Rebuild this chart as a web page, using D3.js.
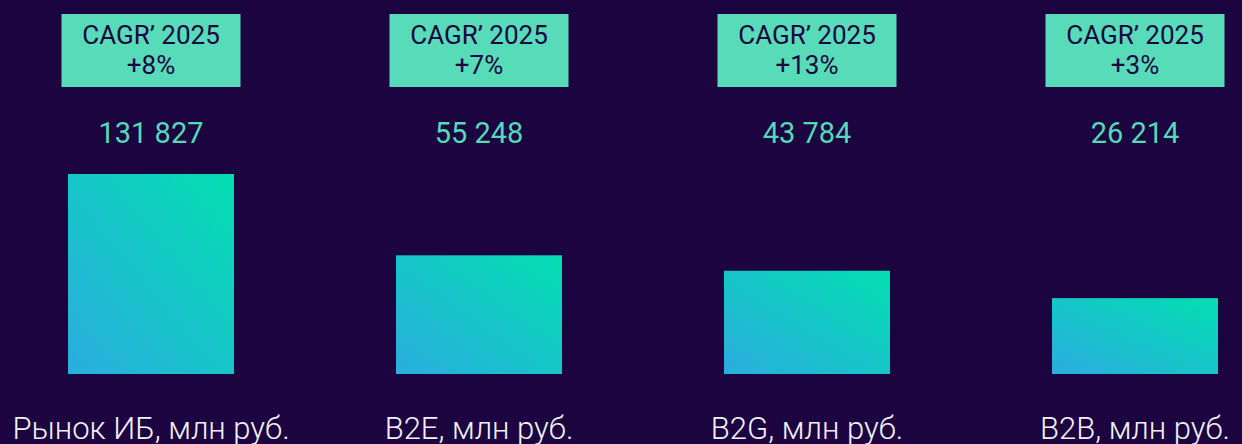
<!DOCTYPE html>
<html>
<head>
<meta charset="utf-8">
<script src="https://cdn.jsdelivr.net/npm/d3@7"></script>
<style>
  html, body { margin: 0; padding: 0; background: #1b0440; }
  svg { display: block; font-family: Roboto, "Noto Sans", sans-serif; }
</style>
</head>
<body>
<div id="chart"></div>
<script>
// data
const categories = ["Рынок ИБ, млн руб.", "B2E, млн руб.", "B2G, млн руб.", "B2B, млн руб."];
const values = [131827, 55248, 43784, 26214];
const cagr = ["+8%", "+7%", "+13%", "+3%"];
const cagrTitle = "CAGR’ 2025";

const width = 1242;
const height = 444;
const barWidth = 166;
const baseY = 374;
const maxBarH = 200;

const svg = d3.select("#chart")
  .append("svg")
  .attr("width", width)
  .attr("height", height);

svg.append("rect").attr("width", width).attr("height", height).attr("fill", "#1b0440");

const defs = svg.append("defs");
const grad = defs.append("linearGradient")
  .attr("id", "barGrad")
  .attr("x1", 0).attr("y1", 1)
  .attr("x2", 1).attr("y2", 0);
grad.append("stop").attr("offset", "0%").attr("stop-color", "#2aaddf");
grad.append("stop").attr("offset", "100%").attr("stop-color", "#03deb1");

// scales
const xScale = d3.scalePoint().domain(categories).range([151, 1135]);
const hScale = d3.scalePow().exponent(0.6).domain([0, d3.max(values)]).range([0, maxBarH]);

const data = categories.map((c, i) => ({ cat: c, value: values[i], cagr: cagr[i] }));
const fmt = (v) => d3.format(",")(v).replace(/,/g, " ");

const col = svg.selectAll("g.col")
  .data(data)
  .join("g")
  .attr("class", "col")
  .attr("transform", (d) => `translate(${xScale(d.cat)},0)`);

// CAGR boxes
col.append("rect")
  .attr("x", -89.5)
  .attr("y", 14)
  .attr("width", 179)
  .attr("height", 73)
  .attr("fill", "#58dbb9");

col.append("text")
  .attr("text-anchor", "middle")
  .attr("y", 44)
  .attr("font-size", 26)
  .attr("fill", "#1b0440")
  .text(cagrTitle);

col.append("text")
  .attr("text-anchor", "middle")
  .attr("y", 74)
  .attr("font-size", 26)
  .attr("fill", "#1b0440")
  .text((d) => d.cagr);

// values
col.append("text")
  .attr("text-anchor", "middle")
  .attr("y", 143)
  .attr("font-size", 29)
  .attr("fill", "#55d9b8")
  .text((d) => fmt(d.value));

// bars
col.append("rect")
  .attr("x", -barWidth / 2)
  .attr("y", (d) => baseY - hScale(d.value))
  .attr("width", barWidth)
  .attr("height", (d) => hScale(d.value))
  .attr("fill", "url(#barGrad)");

// labels
col.append("text")
  .attr("class", "label")
  .attr("text-anchor", "middle")
  .attr("y", 439)
  .attr("font-size", 31)
  .attr("font-weight", 300)
  .attr("fill", "#f4f2f8")
  .text((d) => d.cat);
</script>
</body>
</html>
